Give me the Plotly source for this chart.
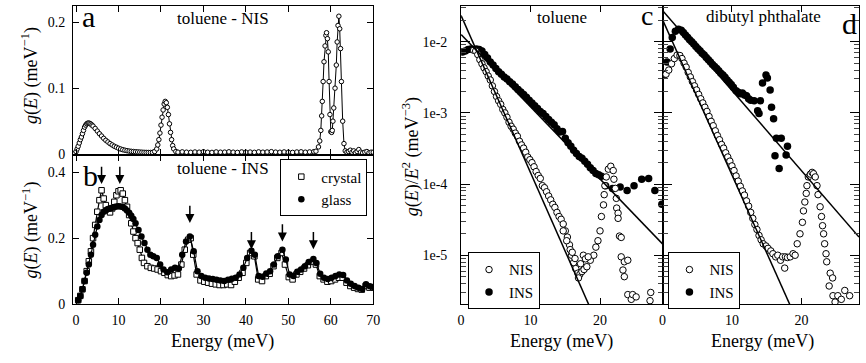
import plotly.graph_objects as go

FONT = "Liberation Serif"
W, H = 866, 363

# ---------------- panel a : toluene NIS ----------------
energy_a = [-0.3, 0.0, 0.25, 0.5, 0.75, 1.0, 1.25, 1.5, 1.75, 2.0, 2.25, 2.5, 2.75, 3.0, 3.25, 3.5, 3.75, 4.0,
            4.5, 5.0, 5.5, 6.0, 6.5, 7.0, 7.5, 8.0, 8.5, 9.0, 9.5, 10.0, 10.5, 11.0, 11.5, 12.0, 12.5, 13.0,
            13.5, 14.0, 14.5, 15.0, 15.5, 16.0, 16.5, 17.0, 17.5, 18.0, 18.5, 19.0, 19.25, 19.5, 19.75, 20.0,
            20.25, 20.5, 20.75, 21.0, 21.25, 21.5, 21.75, 22.0, 22.25, 22.5, 22.75, 23.0, 23.5,
            24, 25, 26, 27, 28, 29, 30, 31, 32, 33, 34, 35, 36, 37, 38, 39, 40, 41, 42, 43, 44, 45, 46, 47,
            48, 49, 50, 51, 52, 53, 54, 55, 56,
            56.5, 57.1, 57.4, 57.65, 57.85, 58.0, 58.2, 58.4, 58.65, 58.85, 59.0, 59.2, 59.4, 59.6, 59.8, 60.0,
            60.2, 60.35, 60.5, 60.7, 61.0, 61.3, 61.5, 61.7, 61.9, 62.1, 62.3, 62.5, 62.8, 63.1, 63.4, 63.8,
            64.2, 64.6, 65.0, 65.4, 65.8, 66.2, 66.6, 67.0, 67.5, 68.0, 68.5, 69.0, 69.5, 70.0]
g_nis_a = [0.0015, 0.004, 0.008, 0.012, 0.017, 0.022, 0.026, 0.031, 0.036, 0.041, 0.044, 0.046, 0.047, 0.0472,
           0.0465, 0.0455, 0.044, 0.0425,
           0.039, 0.035, 0.031, 0.0275, 0.024, 0.021, 0.0185, 0.016, 0.014, 0.012, 0.0105, 0.009, 0.0078,
           0.0068, 0.006, 0.0053, 0.0047, 0.0043,
           0.004, 0.0037, 0.0034, 0.0032, 0.003, 0.0028, 0.0027, 0.0026, 0.0026, 0.0027, 0.004, 0.008, 0.014,
           0.022, 0.032, 0.044,
           0.056, 0.067, 0.076, 0.080, 0.078, 0.071, 0.060, 0.046, 0.033, 0.022, 0.013, 0.008, 0.004,
           0.003, 0.0035, 0.003, 0.0028, 0.0033, 0.003, 0.0037, 0.0029, 0.0027, 0.0034, 0.003, 0.0031, 0.0036,
           0.003, 0.0027, 0.0034, 0.003, 0.0032, 0.0028, 0.0035, 0.003, 0.0033, 0.0038, 0.0031,
           0.0029, 0.0034, 0.003, 0.0027, 0.0033, 0.0036, 0.003, 0.0034, 0.0038,
           0.0045, 0.011, 0.02, 0.036, 0.058, 0.08, 0.11, 0.14, 0.164, 0.18, 0.184, 0.175, 0.155, 0.11, 0.06,
           0.034,
           0.033, 0.036, 0.05, 0.07, 0.10, 0.135, 0.17, 0.195, 0.209, 0.19, 0.16, 0.11, 0.05, 0.016, 0.005,
           0.003,
           0.004, 0.006, 0.003, 0.005, 0.002, 0.004, 0.007, 0.003, 0.002, 0.003, 0.004, 0.002, 0.003, 0.003]

# ---------------- panel b : toluene INS ----------------
energy_b_crystal = [0.5, 1.0, 1.5, 2.0, 2.5, 3.0, 3.5, 4.0, 4.5, 5.0, 5.5, 6.0, 6.5, 7.0, 7.5, 8.0, 8.5, 9.0,
                    9.5, 10.0, 10.5, 11.0, 11.5, 12.0, 12.5, 13.0, 13.5, 14.0, 14.5, 15.0, 15.5, 16.0,
                    16.8, 17.6, 18.4, 19.2, 20.0, 20.8, 21.6, 22.4, 23.2, 24.0, 24.8, 25.6, 26.4, 27.0, 27.6,
                    28.4, 29.3, 30.2, 31.1, 32.0, 32.9, 33.8, 34.7, 35.6, 36.5, 37.4, 38.3, 39.2, 40.1, 41.0,
                    42.0, 42.9, 43.8, 44.7, 45.6, 46.5, 47.4, 48.4, 49.2, 50.1, 51.0, 51.9, 52.8, 53.7, 54.6,
                    55.6, 56.5, 57.4, 58.3, 59.2, 60.1, 61.0, 61.9, 62.8, 63.7, 64.6, 65.5, 66.4, 67.3, 68.2,
                    69.1, 70.0]
g_b_crystal = [0.012, 0.025, 0.045, 0.07, 0.1, 0.13, 0.16, 0.2, 0.24, 0.28, 0.315, 0.345, 0.32, 0.30, 0.285,
               0.278, 0.29, 0.31, 0.33, 0.342, 0.345, 0.335, 0.315, 0.295, 0.27, 0.245, 0.22, 0.2, 0.185,
               0.165, 0.14, 0.125,
               0.115, 0.11, 0.108, 0.105, 0.1, 0.095, 0.088, 0.085, 0.087, 0.09, 0.12, 0.165, 0.195, 0.2,
               0.15, 0.09, 0.072, 0.068, 0.065, 0.062, 0.06, 0.058, 0.058, 0.06, 0.058, 0.068, 0.08, 0.095,
               0.125, 0.155, 0.145, 0.075, 0.07, 0.085, 0.092, 0.115, 0.14, 0.155, 0.12, 0.082, 0.075, 0.09,
               0.098, 0.108, 0.118, 0.128, 0.12, 0.085, 0.075, 0.068, 0.07, 0.075, 0.08, 0.08, 0.065, 0.055,
               0.05, 0.046, 0.044, 0.055, 0.05, 0.05]
energy_b_glass = [0.5, 1.0, 1.5, 2.0, 2.5, 3.0, 3.5, 4.0, 4.5, 5.0, 5.5, 6.0, 6.5, 7.0, 7.5, 8.0, 8.5, 9.0, 9.5,
                  10.0, 10.5, 11.0, 11.5, 12.0, 12.5, 13.0, 13.5, 14.0,
                  14.7, 15.4, 16.1, 16.8, 17.5, 18.2, 19.0, 19.8, 20.6, 21.5, 22.4, 23.3, 24.2, 25.0, 25.9,
                  26.8, 27.7, 28.6, 29.5, 30.4, 31.3, 32.2, 33.1, 34.0, 34.9, 35.8, 36.7, 37.6, 38.5, 39.4,
                  40.3, 41.3, 42.1, 43.0, 43.9, 44.8, 45.7, 46.6, 47.5, 48.6, 49.4, 50.3, 51.2, 52.1, 53.0,
                  53.9, 54.8, 55.9, 56.6, 57.5, 58.4, 59.3, 60.2, 61.1, 62.0, 62.9, 63.8, 64.7, 65.6, 66.5,
                  67.4, 68.3, 69.2, 70.0]
g_b_glass = [0.012, 0.025, 0.045, 0.07, 0.095, 0.12, 0.15, 0.18, 0.21, 0.235, 0.255, 0.27, 0.28, 0.284,
             0.288, 0.29, 0.292, 0.294, 0.296, 0.297, 0.296, 0.294, 0.29, 0.284, 0.277, 0.268, 0.258, 0.245,
             0.225, 0.205, 0.185, 0.165, 0.15, 0.145, 0.14, 0.12, 0.105, 0.097, 0.105, 0.11, 0.108, 0.15,
             0.19, 0.205, 0.16, 0.10, 0.085, 0.08, 0.078, 0.076, 0.074, 0.072, 0.07, 0.074, 0.077, 0.08,
             0.09, 0.11, 0.14, 0.162, 0.15, 0.085, 0.083, 0.093, 0.1, 0.12, 0.145, 0.165, 0.135, 0.09,
             0.085, 0.098, 0.105, 0.115, 0.128, 0.137, 0.125, 0.092, 0.08, 0.076, 0.08, 0.085, 0.09, 0.088,
             0.072, 0.062, 0.055, 0.05, 0.046, 0.06, 0.054, 0.052]
arrow_energy_b = [6.0, 10.3, 26.8, 41.3, 48.6, 55.9]
arrow_tip_b = [0.364, 0.364, 0.246, 0.166, 0.19, 0.166]

# ---------------- panel c : toluene g(E)/E^2 ----------------
energy_c_ins = [0.2, 0.6, 1.0, 1.4, 1.8, 2.2, 2.6, 3.0, 3.4, 3.8, 4.2, 4.6, 5.0, 5.4, 5.8, 6.2, 6.6, 7.0, 7.4,
                7.8, 8.2, 8.6, 9.0, 9.4, 9.8, 10.2, 10.6, 11.0, 11.4, 11.8, 12.2, 12.6, 13.0, 13.4, 13.8,
                14.2, 14.6, 15.0, 15.4, 15.8, 16.2, 16.6, 17.0, 17.4, 17.8, 18.2, 18.6, 19.0, 19.4, 19.8,
                20.2, 20.8, 21.8, 22.9, 23.9, 24.9, 26.0, 27.0, 27.9, 28.9]
gE2_c_ins = [7.2e-3, 7.4e-3, 7.8e-3, 7.9e-3, 7.8e-3, 7.9e-3, 7.8e-3, 7.4e-3, 6.6e-3, 5.9e-3, 5.2e-3, 4.7e-3,
             4.2e-3, 3.8e-3, 3.5e-3, 3.2e-3, 3.0e-3, 2.75e-3, 2.54e-3, 2.34e-3, 2.14e-3, 1.97e-3, 1.82e-3,
             1.66e-3, 1.51e-3, 1.38e-3, 1.26e-3, 1.15e-3, 1.05e-3, 9.8e-4, 8.9e-4, 8.1e-4, 7.4e-4, 6.8e-4,
             6.0e-4, 5.4e-4, 5.5e-4, 4.4e-4, 3.8e-4, 3.4e-4, 3.0e-4, 2.7e-4, 2.45e-4, 2.3e-4, 2.1e-4,
             1.9e-4, 1.7e-4, 1.55e-4, 1.41e-4, 1.35e-4, 1.29e-4, 9.5e-5, 8.7e-5, 9.1e-5, 8.1e-5, 9.5e-5,
             1.17e-4, 1.2e-4, 8.1e-5, 5.2e-5]
energy_c_nis = [1.8, 2.1, 2.4, 2.7, 3.0, 3.3, 3.6, 3.9, 4.2, 4.5, 4.8, 5.1, 5.4, 5.7, 6.0, 6.3, 6.6, 6.9, 7.2,
                7.5, 7.8, 8.1, 8.4, 8.7, 9.0, 9.3, 9.6, 9.9, 10.2, 10.5, 10.8, 11.1, 11.4, 11.7, 12.0, 12.3,
                12.6, 12.9, 13.2, 13.5, 13.8, 14.1, 14.4, 14.7, 15.0, 15.3, 15.6, 15.9, 16.2, 16.5, 16.8,
                17.1, 17.4, 17.7, 18.1, 18.6, 19.1, 19.4, 19.7, 20.0, 20.2, 20.5, 20.6, 20.7, 20.9, 21.2,
                21.55, 21.9, 22.0, 22.2, 22.35, 22.4, 22.6, 22.6, 22.8, 23.05, 23.05, 23.3, 23.5, 23.5, 24.0,
                24.0, 24.5, 24.7, 25.2, 27.2, 27.3,
                14.7, 15.2, 15.7, 16.0, 16.4, 16.9, 17.2, 17.6, 17.9, 18.3]
gE2_c_nis = [7.6e-3, 7.4e-3, 6.6e-3, 5.6e-3, 4.9e-3, 4.3e-3, 3.8e-3, 3.3e-3, 2.9e-3, 2.4e-3, 2.0e-3, 1.7e-3,
             1.48e-3, 1.32e-3, 1.12e-3, 1.0e-3, 8.7e-4, 7.4e-4, 6.5e-4, 5.9e-4, 5.2e-4, 4.7e-4, 4.0e-4,
             3.55e-4, 3.2e-4, 2.8e-4, 2.4e-4, 2.2e-4, 2.0e-4, 1.75e-4, 1.5e-4, 1.32e-4, 1.2e-4, 9.5e-5,
             8.9e-5, 7.8e-5, 6.8e-5, 6.0e-5, 5.2e-5, 4.7e-5, 4.0e-5, 3.5e-5, 3.2e-5, 2.75e-5, 2.2e-5,
             1.8e-5, 1.4e-5, 1.0e-5, 7.9e-6, 6.5e-6, 5.6e-6, 5.4e-6, 5.9e-6, 6.3e-6, 6.9e-6, 8.5e-6,
             1.0e-5, 1.3e-5, 1.6e-5, 2.2e-5, 3.5e-5, 5.1e-5, 7.1e-5, 9.5e-5, 1.26e-4, 1.62e-4, 1.78e-4,
             1.55e-4, 1.17e-4, 8.7e-5, 6.3e-5, 4.6e-5, 3.9e-5, 3.3e-5, 1.86e-5, 1.78e-5, 9.5e-6, 6.2e-6,
             8.1e-6, 5.0e-6, 8.5e-6, 2.8e-6, 2.4e-6, 2.8e-6, 2.6e-6, 2.3e-6, 3.0e-6,
             2.2e-5, 1.6e-5, 1.2e-5, 1.1e-5, 9.0e-6, 4.8e-6, 7.6e-6, 1.0e-5, 8.9e-6, 9.5e-6]

# ---------------- panel d : dibutyl phthalate g(E)/E^2 ----------------
energy_d_ins = [0.2, 0.65, 1.1, 1.4, 1.85, 2.3, 2.7, 3.0, 3.3, 3.6, 3.9, 4.2, 4.5, 4.8, 5.1, 5.4, 5.7, 6.0,
                6.3, 6.6, 6.9, 7.2, 7.5, 7.8, 8.1, 8.4, 8.7, 9.0, 9.3, 9.6, 9.9, 10.2, 10.6, 10.9, 11.2,
                11.5, 11.8, 12.1, 12.4, 12.7, 13.2, 13.7, 13.9, 14.1, 14.4, 14.9, 15.1, 15.5, 15.7, 16.0,
                16.2, 16.4, 16.8, 17.1, 17.8, 18.0]
gE2_d_ins = [3.4e-3, 5.2e-3, 7.9e-3, 1.15e-2, 1.4e-2, 1.5e-2, 1.45e-2, 1.35e-2, 1.24e-2, 1.16e-2, 1.07e-2,
             1.0e-2, 9.3e-3, 8.6e-3, 8.0e-3, 7.5e-3, 6.9e-3, 6.5e-3, 6.0e-3, 5.6e-3, 5.2e-3, 4.8e-3, 4.5e-3,
             4.2e-3, 3.9e-3, 3.6e-3, 3.4e-3, 3.16e-3, 2.9e-3, 2.7e-3, 2.5e-3, 2.3e-3, 2.04e-3, 1.95e-3,
             1.86e-3, 1.9e-3, 1.78e-3, 1.74e-3, 1.58e-3, 1.51e-3, 1.48e-3, 1.07e-3, 9.8e-4, 1.48e-3,
             2.63e-3, 3.4e-3, 3.1e-3, 2.1e-3, 1.2e-3, 8.3e-4, 2.5e-4, 4.4e-4, 1.66e-4, 4.4e-4, 2.57e-4,
             3.4e-4]
energy_d_nis = [0.5, 0.9, 1.3, 1.7, 2.1, 2.5, 2.8, 3.1, 3.4, 3.7, 4.0, 4.3, 4.6, 4.9, 5.2, 5.5, 5.8, 6.1, 6.4,
                6.7, 7.0, 7.3, 7.6, 7.9, 8.2, 8.5, 8.8, 9.1, 9.4, 9.7, 10.0, 10.3, 10.6, 10.9, 11.2, 11.5,
                11.8, 12.1, 12.4, 12.7, 13.0, 13.3, 13.6, 13.9, 14.2, 14.5, 14.9, 15.2, 15.6, 15.9, 16.3,
                16.6, 17.0, 17.3, 17.6, 17.7, 18.0, 18.4, 18.8, 19.1, 19.4, 19.8, 20.15, 20.3, 20.5, 20.7,
                20.8, 21.0, 21.3, 21.55, 21.75, 22.0, 22.25, 22.4, 22.7, 22.9, 23.05, 23.2, 23.35, 23.55,
                23.65, 24.0, 24.15, 24.5, 24.55, 24.85, 25.25, 25.75, 26.25, 26.95]
gE2_d_nis = [3.5e-3, 4.0e-3, 4.9e-3, 5.8e-3, 6.5e-3, 6.4e-3, 5.8e-3, 5.0e-3, 4.4e-3, 3.7e-3, 3.2e-3, 2.75e-3,
             2.4e-3, 2.1e-3, 1.82e-3, 1.58e-3, 1.38e-3, 1.2e-3, 1.05e-3, 8.9e-4, 7.6e-4, 6.6e-4, 5.6e-4,
             4.8e-4, 4.2e-4, 3.6e-4, 3.2e-4, 2.75e-4, 2.4e-4, 2.1e-4, 1.8e-4, 1.55e-4, 1.3e-4, 1.1e-4,
             9.3e-5, 8.0e-5, 7.0e-5, 5.8e-5, 4.9e-5, 4.0e-5, 3.3e-5, 2.7e-5, 2.3e-5, 1.9e-5, 1.65e-5,
             1.45e-5, 1.35e-5, 1.25e-5, 1.15e-5, 1.05e-5, 9.5e-6, 1.0e-5, 8.5e-6, 9.5e-6, 6.6e-6, 9.5e-6,
             9.3e-6, 9.5e-6, 1.05e-5, 1.0e-5, 1.45e-5, 2.0e-5, 2.9e-5, 4.2e-5, 5.6e-5, 7.4e-5, 9.5e-5,
             1.26e-4, 1.38e-4, 1.46e-4, 1.4e-4, 1.26e-4, 9.5e-5, 7.1e-5, 4.8e-5, 3.5e-5, 2.6e-5, 2.0e-5,
             1.45e-5, 1.05e-5, 8.1e-6, 3.7e-6, 5.6e-6, 4.8e-6, 2.7e-6, 2.2e-6, 2.7e-6, 2.4e-6, 3.2e-6,
             2.7e-6]

# exponential fits: (log10 of amplitude, log10 slope per meV)
fit_c_nis = (-1.632, -0.221)
fit_c_ins = (-1.90, -0.1014)
fit_d_nis = (-1.69, -0.2183)
fit_d_ins = (-1.56, -0.1125)

log_ticks = [1e-5, 1e-4, 1e-3, 1e-2]
log_tick_text = ["1e-5", "1e-4", "1e-3", "1e-2"]
minor_mantissas = [2, 3, 4, 5, 6, 7, 8, 9]
minor_decades = [1e-6, 1e-5, 1e-4, 1e-3, 1e-2]

for a, b in [(energy_a, g_nis_a), (energy_b_crystal, g_b_crystal), (energy_b_glass, g_b_glass),
             (energy_c_ins, gE2_c_ins), (energy_c_nis, gE2_c_nis), (energy_d_ins, gE2_d_ins),
             (energy_d_nis, gE2_d_nis)]:
    assert len(a) == len(b), (len(a), len(b))


def px(x):
    return x / W


def py(y):
    return 1 - y / H


XC_MAX, XD_MAX = 29.0, 28.3

fig = go.Figure()


def open_marker(s, sym="circle"):
    return dict(symbol=sym, size=s, color="white", line=dict(color="black", width=1))


def fill_marker(s):
    return dict(symbol="circle", size=s, color="black", line=dict(color="black", width=0))


# a
fig.add_trace(go.Scatter(x=energy_a, y=g_nis_a, mode="lines+markers", line=dict(color="black", width=1),
                         marker=open_marker(4.5), xaxis="x", yaxis="y", showlegend=False))
# b
fig.add_trace(go.Scatter(x=energy_b_crystal, y=g_b_crystal, mode="lines", line=dict(color="black", width=1.2),
                         xaxis="x2", yaxis="y2", showlegend=False))
fig.add_trace(go.Scatter(x=energy_b_crystal, y=g_b_crystal, mode="markers", name="crystal",
                         marker=open_marker(5.5, "square"), xaxis="x2", yaxis="y2", legend="legend"))
fig.add_trace(go.Scatter(x=energy_b_glass, y=g_b_glass, mode="lines", line=dict(color="black", width=1.2),
                         xaxis="x2", yaxis="y2", showlegend=False))
fig.add_trace(go.Scatter(x=energy_b_glass, y=g_b_glass, mode="markers", name="glass",
                         marker=fill_marker(6.5), xaxis="x2", yaxis="y2", legend="legend"))
# c
fig.add_trace(go.Scatter(x=energy_c_ins, y=gE2_c_ins, mode="markers", name="INS", marker=fill_marker(7.5),
                         xaxis="x3", yaxis="y3", legend="legend2"))
fig.add_trace(go.Scatter(x=energy_c_nis, y=gE2_c_nis, mode="markers", name="NIS", marker=open_marker(6.5),
                         xaxis="x3", yaxis="y3", legend="legend2"))
for fa, fb in (fit_c_nis, fit_c_ins):
    fig.add_trace(go.Scatter(x=[0, XC_MAX], y=[10 ** fa, 10 ** (fa + fb * XC_MAX)], mode="lines",
                             line=dict(color="black", width=1.5), xaxis="x3", yaxis="y3", showlegend=False))
# d
fig.add_trace(go.Scatter(x=energy_d_ins, y=gE2_d_ins, mode="markers", name="INS", marker=fill_marker(7.5),
                         xaxis="x4", yaxis="y4", legend="legend3"))
fig.add_trace(go.Scatter(x=energy_d_nis, y=gE2_d_nis, mode="markers", name="NIS", marker=open_marker(6.5),
                         xaxis="x4", yaxis="y4", legend="legend3"))
for fa, fb in (fit_d_nis, fit_d_ins):
    fig.add_trace(go.Scatter(x=[0, XD_MAX], y=[10 ** fa, 10 ** (fa + fb * XD_MAX)], mode="lines",
                             line=dict(color="black", width=1.5), xaxis="x4", yaxis="y4", showlegend=False))

tickfont = dict(family=FONT, size=14, color="black")


def axis(**kw):
    d = dict(showline=True, linecolor="black", linewidth=1, mirror="ticks", ticks="inside", ticklen=6,
             tickwidth=1, tickcolor="black", showgrid=False, zeroline=False, tickfont=tickfont)
    d.update(kw)
    return d


minor_vals = [m * d for d in minor_decades for m in minor_mantissas]
minor = dict(ticks="inside", ticklen=5, tickwidth=1, tickcolor="#444", tickmode="array",
             tickvals=minor_vals, showgrid=False)

XA = [px(70), px(374)]
YA = [py(159), py(6)]
YB = [py(311), py(159)]
XC = [px(463), px(667)]
XD = [px(667), 1.0]
YC = [py(311), py(6)]
LOGR = [-5.687, -1.496]

legend_font = dict(family=FONT, size=15, color="black")

fig.update_layout(
    width=W, height=H, margin=dict(l=0, r=0, t=0, b=0), autosize=False,
    paper_bgcolor="white", plot_bgcolor="white",
    font=dict(family=FONT, size=14, color="black"),
    xaxis=axis(domain=XA, range=[-0.7, 70], tick0=0, dtick=10, showticklabels=False, anchor="y"),
    yaxis=axis(domain=YA, range=[-0.002, 0.2247], tick0=0, dtick=0.1, anchor="x", ticklabelstandoff=4),
    xaxis2=axis(domain=XA, range=[-0.7, 70], tick0=0, dtick=10, anchor="y2", ticklabelstandoff=3),
    yaxis2=axis(domain=YB, range=[0, 0.4504], tick0=0, dtick=0.2, anchor="x2", ticklabelstandoff=4),
    xaxis3=axis(domain=XC, range=[0, XC_MAX], tick0=0, dtick=10, anchor="y3", ticklabelstandoff=3),
    yaxis3=axis(domain=YC, type="log", range=LOGR, tickmode="array", tickvals=log_ticks,
                ticktext=log_tick_text, anchor="x3", minor=minor, ticklen=9, ticklabelstandoff=10),
    xaxis4=axis(domain=XD, range=[0, XD_MAX], tick0=0, dtick=10, anchor="y4", ticklabelstandoff=3),
    yaxis4=axis(domain=YC, type="log", range=LOGR, tickmode="array", tickvals=log_ticks,
                showticklabels=False, anchor="x4", minor=minor, ticklen=9),
    legend=dict(x=px(368), xanchor="right", y=py(163), yanchor="top", bordercolor="black", borderwidth=1,
                bgcolor="white", font=legend_font, itemsizing="trace", tracegroupgap=0),
    legend2=dict(x=px(470), xanchor="left", y=py(258), yanchor="top", bordercolor="black", borderwidth=1,
                 bgcolor="white", font=legend_font, itemsizing="trace", traceorder="reversed"),
    legend3=dict(x=px(673), xanchor="left", y=py(258), yanchor="top", bordercolor="black", borderwidth=1,
                 bgcolor="white", font=legend_font, itemsizing="trace", traceorder="reversed"),
)

ann = []


def text(x, y, s, size, **kw):
    d = dict(x=px(x), y=py(y), xref="paper", yref="paper", text=s, showarrow=False,
             font=dict(family=FONT, size=size, color="black"), xanchor="center", yanchor="middle")
    d.update(kw)
    ann.append(d)


# panel letters
text(86, 17, "a", 30)
text(88, 179, "b", 30)
text(651, 16, "c", 28)
text(856, 24, "d", 30)
# inner titles
text(222, 19, "toluene - NIS", 17)
text(222, 172, "toluene - INS", 17)
text(565, 18, "toluene", 17)
text(769, 17, "dibutyl phthalate", 17)
# axis titles
text(27, 77, "<i>g</i>(<i>E</i>) (meV<sup>−1</sup>)", 18, textangle=-90)
text(27, 235, "<i>g</i>(<i>E</i>) (meV<sup>−1</sup>)", 18, textangle=-90)
text(413, 160, "<i>g</i>(<i>E</i>)/<i>E</i><sup>2</sup> (meV<sup>−3</sup>)", 18, textangle=-90)
text(221, 349, "Energy (meV)", 18)
text(565, 349, "Energy (meV)", 18)
text(768, 349, "Energy (meV)", 18)

for e, tip in zip(arrow_energy_b, arrow_tip_b):
    ann.append(dict(x=e, y=tip, xref="x2", yref="y2", ax=e, ay=tip + 0.057, axref="x2", ayref="y2",
                    text="", showarrow=True, arrowhead=2, arrowsize=1.2, arrowwidth=1.5,
                    arrowcolor="black", standoff=0))

fig.update_layout(annotations=ann)
fig.write_html("out.html")
